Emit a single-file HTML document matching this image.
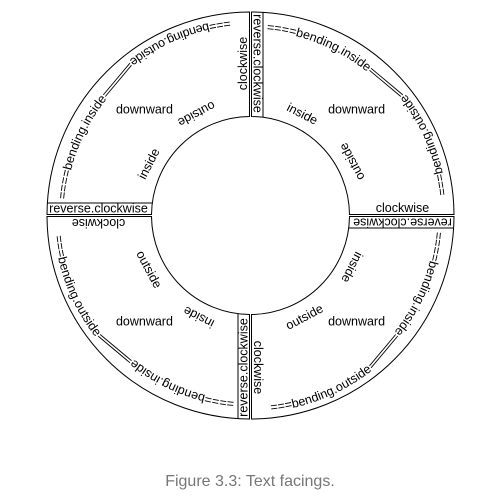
<!DOCTYPE html>
<html><head><meta charset="utf-8"><style>
html,body{margin:0;padding:0;background:#fff;}
svg{display:block;font-family:"Liberation Sans",Arial,sans-serif;}
</style></head><body>
<svg id="chart" width="501" height="496" viewBox="0 0 501 496">
<text x="250" y="486" text-anchor="middle" font-size="16" fill="#777">Figure 3.3: Text facings.</text>
</svg>
<script>
const sectorStarts = [90, 0, -90, -180];
const sectorNames = ['top-right', 'bottom-right', 'bottom-left', 'top-left'];
const CX = 250.5, CY = 215.5, RIN = 99, ROUT = 203.5;
const NS = 'http://www.w3.org/2000/svg';
const svg = document.getElementById('chart');
const rad = d => d * Math.PI / 180;
function pt(th, r) { return [CX + r * Math.cos(rad(th)), CY - r * Math.sin(rad(th))]; }
function mk(tag, attrs, parent) {
  const el = document.createElementNS(NS, tag);
  for (const k in attrs) el.setAttribute(k, attrs[k]);
  (parent || svg).appendChild(el);
  return el;
}
function offPt(th, along, d) {
  const u = [Math.cos(rad(th)), -Math.sin(rad(th))];
  const n = [Math.sin(rad(th)), Math.cos(rad(th))];
  return [CX + along * u[0] + d * n[0], CY + along * u[1] + d * n[1]];
}
function along(r, d) { return Math.sqrt(r * r - d * d); }
function addText(txt, x, y, rot, name, parent) {
  const t = mk('text', {x: x, y: y, 'font-size': 12.5, 'text-anchor': 'middle', 'dominant-baseline': 'central', transform: 'rotate(' + rot + ' ' + x + ' ' + y + ')', fill: '#000'}, parent);
  
  
  t.textContent = txt;
  return t;
}
sectorStarts.forEach((s, i) => {
  const e = s - 90;
  const g = mk('g', {});
  
  
  const gap = 1;
  const a1 = s - Math.asin(gap / ROUT) * 180 / Math.PI, a2 = e + Math.asin(gap / ROUT) * 180 / Math.PI;
  const b1 = s - Math.asin(gap / RIN) * 180 / Math.PI, b2 = e + Math.asin(gap / RIN) * 180 / Math.PI;
  const po1 = pt(a1, ROUT), po2 = pt(a2, ROUT), pi2 = pt(b2, RIN), pi1 = pt(b1, RIN);
  const outline = mk('path', {d: 'M' + pi1 + ' L' + po1 + ' A' + ROUT + ' ' + ROUT + ' 0 0 1 ' + po2 + ' L' + pi2 + ' A' + RIN + ' ' + RIN + ' 0 0 0 ' + pi1 + 'Z', fill: 'none', stroke: '#000', 'stroke-width': 1}, g);
  
  
  const bd = 12.5;
  const q1 = offPt(s, along(RIN, bd), bd), q2 = offPt(s, along(ROUT, bd), bd);
  const box = mk('line', {x1: q1[0], y1: q1[1], x2: q2[0], y2: q2[1], stroke: '#000', 'stroke-width': 1}, g);
  
  
  let p = offPt(s, 152, 7);
  addText('reverse.clockwise', p[0], p[1], 180 - s, 'reverse-clockwise-label', g);
  p = offPt(e, 152, -7.5);
  addText('clockwise', p[0], p[1], -e, 'clockwise-label', g);
  let th = s - 27; p = pt(th, 114);
  addText('inside', p[0], p[1], 90 - th, 'inside-label', g);
  th = s - 62; p = pt(th, 115);
  addText('outside', p[0], p[1], 270 - th, 'outside-label', g);
  th = s - 45; p = pt(th, 150);
  addText('downward', p[0], p[1], 0, 'downward-label', g);
  // bending inside
  const rI = 185, sI = s - 5;
  const i1 = pt(sI, rI), i2 = pt(s - 70, rI);
  mk('path', {id: 'bi' + i, d: 'M' + i1 + ' A' + rI + ' ' + rI + ' 0 0 1 ' + i2, fill: 'none'}, g);
  const tb = mk('text', {'font-size': 12.5}, g);
  
  
  const tp = mk('textPath', {href: '#bi' + i}, tb);
  tp.textContent = '====bending.inside';
  // bending outside
  const rO = 197, sO = e + 6;
  const o1 = pt(sO, rO), o2 = pt(e + 70, rO);
  mk('path', {id: 'bo' + i, d: 'M' + o1 + ' A' + rO + ' ' + rO + ' 0 0 0 ' + o2, fill: 'none'}, g);
  const tb2 = mk('text', {'font-size': 12.5}, g);
  
  
  const tp2 = mk('textPath', {href: '#bo' + i}, tb2);
  tp2.textContent = '===bending.outside';
  let l1 = 112, l2 = 113;
  try { l1 = tb.getComputedTextLength() || l1; l2 = tb2.getComputedTextLength() || l2; } catch (err) {}
  const endI = sI - (l1 / rI) * 180 / Math.PI - 0.3;
  const endO = sO + (l2 / rO) * 180 / Math.PI + 0.3;
  [-1.3, 1.3].forEach(k => {
    const c1 = pt(endI, 189 + k), c2 = pt(endO, 193 + k);
    const ln = mk('line', {x1: c1[0], y1: c1[1], x2: c2[0], y2: c2[1], stroke: '#000', 'stroke-width': 0.9}, g);
    
    
  });
});
</script>
</body></html>
